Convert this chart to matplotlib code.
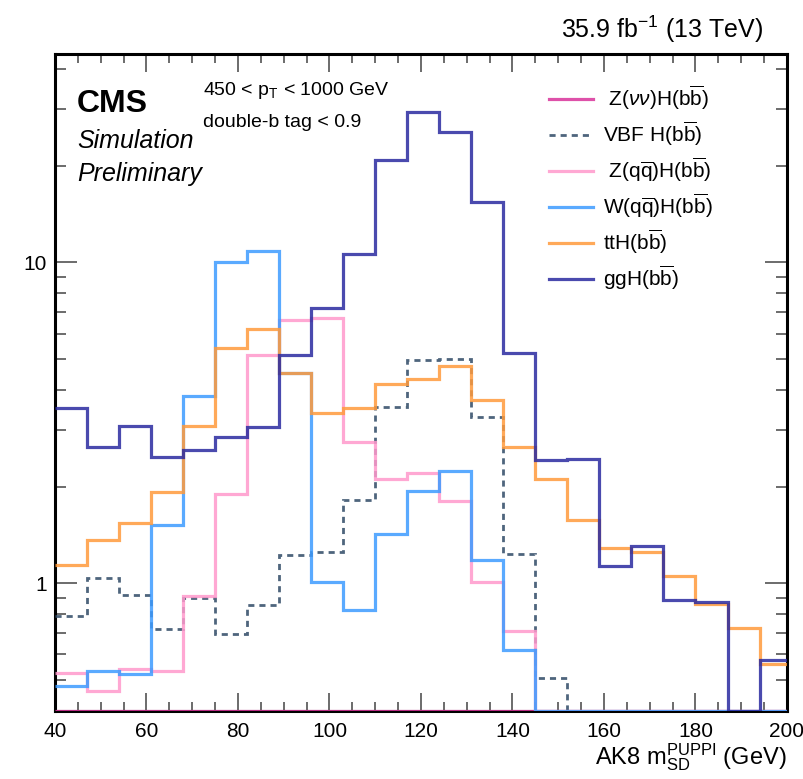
import numpy as np
import matplotlib
matplotlib.use("Agg")
import matplotlib.pyplot as plt
from matplotlib.ticker import FixedLocator, NullFormatter, FixedFormatter, MultipleLocator

plt.rcParams['font.family'] = ['Liberation Sans', 'DejaVu Sans']
plt.rcParams['mathtext.fontset'] = 'custom'
plt.rcParams['mathtext.rm'] = 'Liberation Sans'
plt.rcParams['mathtext.it'] = 'Liberation Sans:italic'
plt.rcParams['mathtext.bf'] = 'Liberation Sans:bold'

# ---- data ----
bin_edges = np.arange(40, 202, 7)  # 40 ... 201 (23 bins)

znn_hbb = [0.0] * 23
vbf_hbb = [0.791, 1.036, 0.92, 0.72, 0.898, 0.694, 0.856, 1.225, 1.249, 1.82, 3.55, 4.98,
           5.00, 3.29, 1.23, 0.506, 0, 0, 0, 0, 0, 0, 0]
zqq_hbb = [0.524, 0.462, 0.54, 0.533, 0.913, 1.90, 5.14, 6.61, 6.69, 2.76, 2.12, 2.20,
           1.80, 1.01, 0.71, 0, 0, 0, 0, 0, 0, 0, 0]
wqq_hbb = [0.48, 0.534, 0.52, 1.52, 3.83, 10.0, 10.87, 4.51, 1.01, 0.826, 1.42, 1.94,
           2.24, 1.18, 0.62, 0, 0, 0, 0, 0, 0, 0, 0]
tth_hbb = [1.14, 1.36, 1.54, 1.92, 3.09, 5.40, 6.18, 4.51, 3.40, 3.53, 4.17, 4.32,
           4.75, 3.72, 2.66, 2.11, 1.57, 1.285, 1.25, 1.05, 0.862, 0.724, 0.56]
ggh_hbb = [3.53, 2.65, 3.10, 2.47, 2.60, 2.85, 3.07, 5.14, 7.19, 10.6, 20.8, 29.4,
           25.4, 15.4, 5.21, 2.42, 2.44, 1.13, 1.31, 0.89, 0.876, 0, 0.577]

labels = [r" Z($\nu\nu$)H(b$\overline{\rm b}$)",
          r"VBF H(b$\overline{\rm b}$)",
          r" Z(q$\overline{\rm q}$)H(b$\overline{\rm b}$)",
          r"W(q$\overline{\rm q}$)H(b$\overline{\rm b}$)",
          r"ttH(b$\overline{\rm b}$)",
          r"ggH(b$\overline{\rm b}$)"]
series = [znn_hbb, vbf_hbb, zqq_hbb, wqq_hbb, tth_hbb, ggh_hbb]
colors = ['#d9339a', '#2f4a66', '#ff99cc', '#3d9bff', '#ff9a3c', '#2a2aa0']
styles = ['-', (0, (2.2, 1.8)), '-', '-', '-', '-']

YMIN, YMAX = 0.4, 44.6
XMIN, XMAX = 40, 200

fig = plt.figure(figsize=(8.04, 7.79), dpi=100)
ax = fig.add_axes([55/804, 1-711/779, 732/804, 657/779])
ax.set_yscale('log')

for vals, lab, col, ls in zip(series, labels, colors, styles):
    v = np.maximum(np.asarray(vals, dtype=float), YMIN)
    lw = 2.0 if ls != '-' else 2.3
    ax.stairs(v, bin_edges, baseline=None, color=col, linestyle=ls, linewidth=lw,
              label=lab, alpha=0.85, zorder=3)

ax.set_xlim(XMIN, XMAX)
ax.set_ylim(YMIN, YMAX)

# ticks
ax.xaxis.set_major_locator(MultipleLocator(20))
ax.xaxis.set_minor_locator(MultipleLocator(5))
ax.yaxis.set_major_locator(FixedLocator([1, 10]))
ax.yaxis.set_major_formatter(FixedFormatter(['1', '10']))
ax.yaxis.set_minor_locator(FixedLocator([0.4, 0.5, 0.6, 0.7, 0.8, 0.9, 2, 3, 4, 5, 6, 7, 8, 9, 20, 30, 40]))
ax.yaxis.set_minor_formatter(NullFormatter())

ax.tick_params(which='both', direction='in', top=True, right=True, color='#444444', width=1.1)
ax.tick_params(axis='x', which='major', length=13, labelsize=15, pad=8)
ax.tick_params(axis='x', which='minor', length=6.5)
ax.tick_params(axis='y', which='major', length=16, labelsize=15, pad=6)
ax.tick_params(axis='y', which='minor', length=8)
for s in ax.spines.values():
    s.set_linewidth(2.2)

ax.set_xlabel(r"AK8 m$_{\rm SD}^{\rm PUPPI}$ (GeV)", fontsize=17, loc='right', labelpad=0)

# texts
fig.text(763/804, 1-38/779, r"35.9 fb$^{\mathregular{-1}}$ (13 TeV)", fontsize=18,
         ha='right', va='baseline')
ax.text(77/804, 1-112/779, "CMS", fontsize=23, fontweight='bold', transform=fig.transFigure,
        ha='left', va='baseline')
ax.text(77/804, 1-148/779, "Simulation", fontsize=18, style='italic', transform=fig.transFigure,
        ha='left', va='baseline')
ax.text(77/804, 1-181/779, "Preliminary", fontsize=18, style='italic', transform=fig.transFigure,
        ha='left', va='baseline')
ax.text(203/804, 1-95/779, r"450 < p$_{\rm T}$ < 1000 GeV", fontsize=14, transform=fig.transFigure,
        ha='left', va='baseline')
ax.text(203/804, 1-127/779, "double-b tag < 0.9", fontsize=14, transform=fig.transFigure,
        ha='left', va='baseline')

leg = ax.legend(loc='upper left', bbox_to_anchor=((549-55)/732, (711-84)/657), frameon=False,
                fontsize=15, handlelength=2.1, handletextpad=0.5, labelspacing=0.37,
                borderpad=0, borderaxespad=0)

fig.savefig("out.png", dpi=100)
